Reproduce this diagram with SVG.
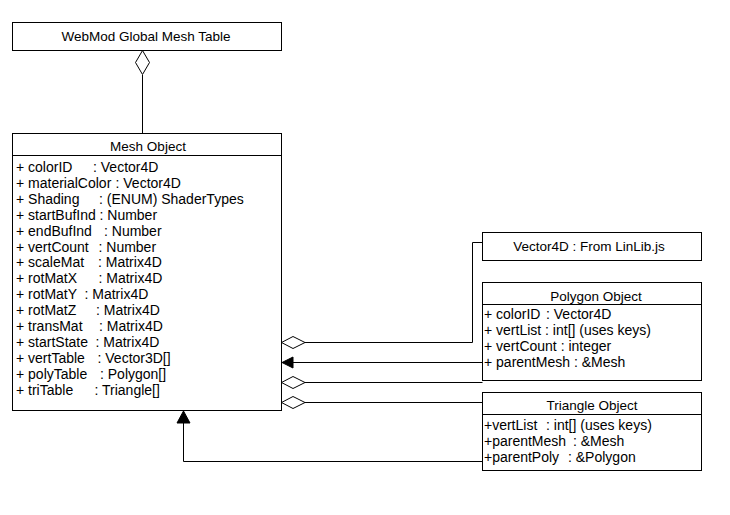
<svg xmlns="http://www.w3.org/2000/svg" width="730" height="515" viewBox="0 0 730 515">
<style>
.box{fill:#fff;stroke:#000;stroke-width:1}
.ln{fill:none;stroke:#000;stroke-width:1}
.dia{fill:#fff;stroke:#000;stroke-width:1}
.arr{fill:#000;stroke:#000;stroke-width:1}
text{font-family:"Liberation Sans",Arial,sans-serif;font-size:14px;fill:#000}
.c{text-anchor:middle;font-size:13.5px}
</style>
<rect width="730" height="515" fill="#fff"/>
<g id="connectors">
<path class="ln" d="M142.5,75 V133"/>
<polygon class="dia" points="142.5,50.5 149.5,62.5 142.5,74.5 135.5,62.5"/>
<path class="ln" d="M305,342.5 H472.5 V242.5 H482.5"/>
<polygon class="dia" points="281.5,342.5 293,336.5 305,342.5 293,348.5"/>
<path class="ln" d="M293,362.5 H482.5"/>
<polygon class="arr" points="282,362.5 293,357 293,368"/>
<path class="ln" d="M305,382.5 H482.5"/>
<polygon class="dia" points="281.5,382.5 293,376.5 305,382.5 293,388.5"/>
<path class="ln" d="M305,402.5 H482.5"/>
<polygon class="dia" points="281.5,402.5 293,396.5 305,402.5 293,408.5"/>
<path class="ln" d="M482.5,461.5 H183.5 V423"/>
<polygon class="arr" points="183.5,411 177,423 190,423"/>
</g>
<g id="webmod">
<rect class="box" x="12.5" y="22.5" width="269" height="28"/>
<text class="c" x="146" y="41">WebMod Global Mesh Table</text>
</g>
<g id="mesh">
<rect class="box" x="12.5" y="133.5" width="269" height="277"/>
<path class="ln" d="M12.5,155.5 H281.5"/>
<text class="c" x="148" y="151">Mesh Object</text>
<text x="16" y="171.7">+ colorID<tspan x="93">: Vector4D</tspan></text>
<text x="16" y="187.7">+ materialColor<tspan x="115.5">: Vector4D</tspan></text>
<text x="16" y="203.7">+ Shading<tspan x="99">: (ENUM) ShaderTypes</tspan></text>
<text x="16" y="219.7">+ startBufInd<tspan x="99.5">: Number</tspan></text>
<text x="16" y="235.7">+ endBufInd<tspan x="104">: Number</tspan></text>
<text x="16" y="251.5">+ vertCount<tspan x="98.5">: Number</tspan></text>
<text x="16" y="267.4">+ scaleMat<tspan x="98">: Matrix4D</tspan></text>
<text x="16" y="283.3">+ rotMatX<tspan x="98.5">: Matrix4D</tspan></text>
<text x="16" y="299.3">+ rotMatY<tspan x="84.5">: Matrix4D</tspan></text>
<text x="16" y="315.3">+ rotMatZ<tspan x="96">: Matrix4D</tspan></text>
<text x="16" y="331.3">+ transMat<tspan x="99">: Matrix4D</tspan></text>
<text x="16" y="347.3">+ startState<tspan x="95.5">: Matrix4D</tspan></text>
<text x="16" y="363.3">+ vertTable<tspan x="97.5">: Vector3D[]</tspan></text>
<text x="16" y="379.3">+ polyTable<tspan x="100">: Polygon[]</tspan></text>
<text x="16" y="395.3">+ triTable<tspan x="94.5">: Triangle[]</tspan></text>
</g>
<g id="vector4d">
<rect class="box" x="482.5" y="232.5" width="219" height="28"/>
<text class="c" x="589" y="251">Vector4D : From LinLib.js</text>
</g>
<g id="polygon">
<rect class="box" x="482.5" y="282.5" width="219" height="98"/>
<path class="ln" d="M482.5,304.5 H701.5"/>
<text class="c" x="596" y="301">Polygon Object</text>
<text x="484" y="319">+ colorID<tspan x="546">: Vector4D</tspan></text>
<text x="484" y="335">+ vertList : int[] (uses keys)</text>
<text x="484" y="350.8">+ vertCount : integer</text>
<text x="484" y="366.7">+ parentMesh : &amp;Mesh</text>
</g>
<g id="triangle">
<rect class="box" x="482.5" y="392.5" width="219" height="78"/>
<path class="ln" d="M482.5,414.5 H701.5"/>
<text class="c" x="592" y="410">Triangle Object</text>
<text x="484" y="430">+vertList<tspan x="546">: int[] (uses keys)</tspan></text>
<text x="484" y="445.8">+parentMesh<tspan x="573">: &amp;Mesh</tspan></text>
<text x="484" y="461.7">+parentPoly<tspan x="568">: &amp;Polygon</tspan></text>
</g>
</svg>
